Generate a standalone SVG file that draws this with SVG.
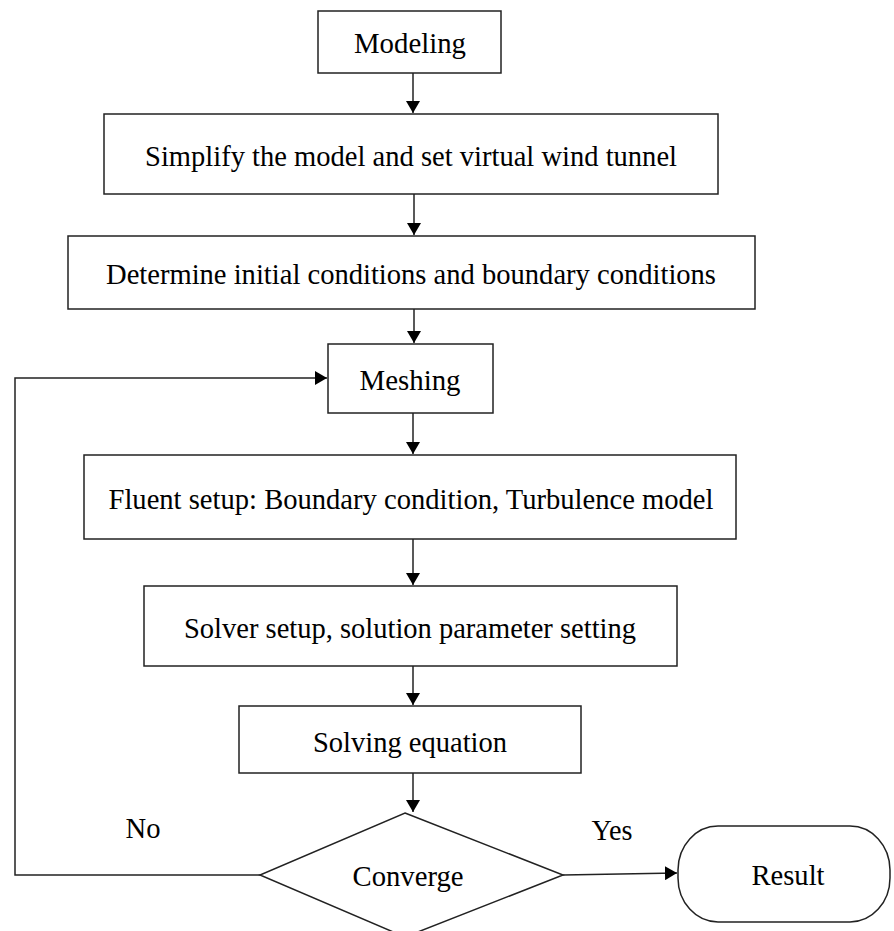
<svg xmlns="http://www.w3.org/2000/svg" width="894" height="931" viewBox="0 0 894 931">
<style>
.box{fill:#fff;stroke:#222;stroke-width:1.5}
.t{font-family:"Liberation Serif","Times New Roman",serif;font-size:30px;fill:#000;text-anchor:middle}
.c{fill:none;stroke:#222;stroke-width:1.5}
</style>
<defs>
<marker id="ah" markerWidth="12" markerHeight="14" refX="12" refY="7" orient="auto" markerUnits="userSpaceOnUse">
<path d="M0,0 L12,7 L0,14 Z" fill="#000"/>
</marker>
</defs>
<rect width="894" height="931" fill="#fff"/>
<g id="connectors">
<line class="c" x1="413" y1="73" x2="413" y2="113" marker-end="url(#ah)"/>
<line class="c" x1="414" y1="194" x2="414" y2="235" marker-end="url(#ah)"/>
<line class="c" x1="414" y1="309" x2="414" y2="343" marker-end="url(#ah)"/>
<line class="c" x1="413" y1="413" x2="413" y2="454" marker-end="url(#ah)"/>
<line class="c" x1="413" y1="539" x2="413" y2="585" marker-end="url(#ah)"/>
<line class="c" x1="413" y1="666" x2="413" y2="705" marker-end="url(#ah)"/>
<line class="c" x1="413" y1="773" x2="413" y2="812" marker-end="url(#ah)"/>
<polyline class="c" points="260,875 15,875 15,378 327,378" marker-end="url(#ah)"/>
<line class="c" x1="563" y1="875" x2="677" y2="873" marker-end="url(#ah)"/>
<text class="t" x="143" y="838" textLength="35" lengthAdjust="spacingAndGlyphs">No</text>
<text class="t" x="612" y="840" textLength="41" lengthAdjust="spacingAndGlyphs">Yes</text>
</g>
<g id="modeling">
<rect class="box" x="318" y="11" width="183" height="62"/>
<text class="t" x="410" y="53" textLength="112" lengthAdjust="spacingAndGlyphs">Modeling</text>
</g>
<g id="simplify">
<rect class="box" x="104" y="114" width="614" height="80"/>
<text class="t" x="411" y="166" textLength="532" lengthAdjust="spacingAndGlyphs">Simplify the model and set virtual wind tunnel</text>
</g>
<g id="determine">
<rect class="box" x="68" y="236" width="687" height="73"/>
<text class="t" x="411" y="284" textLength="610" lengthAdjust="spacingAndGlyphs">Determine initial conditions and boundary conditions</text>
</g>
<g id="meshing">
<rect class="box" x="328" y="344" width="165" height="69"/>
<text class="t" x="410" y="390" textLength="101" lengthAdjust="spacingAndGlyphs">Meshing</text>
</g>
<g id="fluent">
<rect class="box" x="84" y="455" width="652" height="84"/>
<text class="t" x="411" y="509" textLength="605" lengthAdjust="spacingAndGlyphs">Fluent setup: Boundary condition, Turbulence model</text>
</g>
<g id="solver">
<rect class="box" x="144" y="586" width="533" height="80"/>
<text class="t" x="410" y="638" textLength="452" lengthAdjust="spacingAndGlyphs">Solver setup, solution parameter setting</text>
</g>
<g id="solving">
<rect class="box" x="239" y="706" width="342" height="67"/>
<text class="t" x="410" y="752" textLength="194" lengthAdjust="spacingAndGlyphs">Solving equation</text>
</g>
<g id="converge">
<polygon class="box" points="405,813 563,875 405,937 260,875"/>
<text class="t" x="408" y="886" textLength="111" lengthAdjust="spacingAndGlyphs">Converge</text>
</g>
<g id="result">
<rect class="box" x="678" y="826" width="212" height="96" rx="40" ry="44"/>
<text class="t" x="788" y="885" textLength="73" lengthAdjust="spacingAndGlyphs">Result</text>
</g>
</svg>
